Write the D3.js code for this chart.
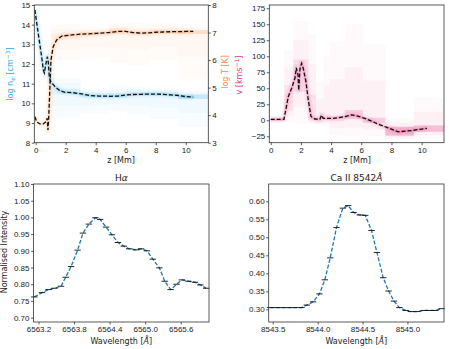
<!DOCTYPE html>
<html>
<head>
<meta charset="utf-8">
<script src="https://cdn.jsdelivr.net/npm/d3@7"></script>
<style>
  body { margin: 0; background: #fff; }
  svg { font-family: "DejaVu Sans", sans-serif; }
  .tick text { font-size: 8px; fill: #222; }
  .tick line { stroke: #333; stroke-width: 0.8; }
  .lbl { font-size: 8px; fill: #222; }
</style>
</head>
<body>
<svg id="fig" width="449" height="349"></svg>
<script>
// ---- atmosphere: dashed mean curves ----
const zNe = [-0.05, 0.17, 0.4, 0.51, 0.58, 0.69, 0.78, 0.84, 0.91, 1.0, 1.29, 1.62, 1.95, 2.5, 3.07, 3.62, 4.2, 5.0, 5.5, 6.0, 6.5, 7.0, 7.5, 8.0, 8.5, 9.0, 9.5, 10.0, 10.5];
const logNe = [14.75, 13.56, 12.37, 11.7, 11.55, 12.04, 12.37, 12.1, 11.35, 11.1, 10.85, 10.64, 10.56, 10.54, 10.48, 10.4, 10.37, 10.36, 10.37, 10.43, 10.45, 10.46, 10.47, 10.47, 10.46, 10.43, 10.4, 10.34, 10.32];

const zT = [-0.05, 0.07, 0.29, 0.51, 0.69, 0.77, 0.82, 0.87, 0.95, 1.02, 1.17, 1.4, 1.73, 2.17, 2.95, 4.07, 4.84, 5.5, 6.0, 6.5, 7.0, 7.5, 8.0, 8.5, 9.0, 9.5, 10.0, 10.5];
const logT = [3.94, 3.76, 3.68, 3.68, 3.76, 3.89, 3.46, 3.89, 5.03, 6.0, 6.49, 6.73, 6.87, 6.9, 6.94, 6.97, 7.0, 7.04, 7.04, 7.0, 6.98, 6.99, 7.01, 7.02, 7.03, 7.03, 7.04, 7.04];

const zV = [0, 0.88, 1.17, 1.39, 1.61, 1.7, 1.76, 1.81, 1.86, 1.94, 2.05, 2.16, 2.34, 2.49, 2.67, 2.93, 3.26, 3.37, 3.48, 4.15, 4.92, 5.36, 5.7, 6.25, 7.13, 8.46, 9.34, 10.35];
const vel = [1.5, 1.5, 37, 50, 66, 82, 74, 72, 47, 80, 89, 81, 60, 32, 6, 2, 1.5, 8, 3, 3, 5.6, 8.3, 7, 3, -6, -18, -16, -12.5];

// ---- density columns: [z0, z1, outerLo, innerLo, innerHi, outerHi, weight] ----
const tCells = [
  [1.0, 3.0, 6.0, 6.75, 6.97, 7.3, 0.3],
  [3.0, 4.9, 6.1, 6.88, 7.02, 7.2, 0.4],
  [4.9, 6.1, 5.9, 6.95, 7.15, 7.35, 0.6],
  [6.1, 7.6, 5.8, 6.9, 7.05, 7.36, 0.4],
  [7.6, 9.5, 6.0, 6.95, 7.1, 7.35, 0.5],
  [9.5, 11.5, 5.3, 6.95, 7.09, 7.25, 1.0]
];
const neCells = [
  [1.0, 3.0, 9.3, 10.45, 10.75, 11.3, 0.3],
  [3.0, 4.9, 9.5, 10.3, 10.5, 10.7, 0.5],
  [4.9, 6.1, 9.6, 10.3, 10.5, 10.9, 0.6],
  [6.1, 7.6, 9.4, 10.38, 10.55, 10.85, 0.5],
  [7.6, 9.5, 9.2, 10.38, 10.55, 10.8, 0.5],
  [9.5, 11.5, 8.8, 10.22, 10.45, 10.65, 1.0]
];
const vCells = [
  [0.0, 0.9, -3, -1, 3, 5, 0.5],
  [0.9, 1.5, -2, 15, 55, 110, 0.4],
  [1.5, 2.5, -5, 45, 95, 155, 0.5],
  [2.5, 3.0, -5, 0, 40, 135, 0.4],
  [3.0, 3.5, -8, -2, 6, 60, 0.3],
  [3.5, 3.9, -10, 0, 8, 100, 0.3],
  [3.9, 4.9, -22, -1, 7, 122, 0.4],
  [4.9, 6.1, -25, 2, 16, 150, 0.8],
  [6.1, 7.6, -25, -4, 4, 120, 0.8],
  [7.6, 9.5, -30, -24, -10, 3, 1.3],
  [9.5, 11.5, -28, -18, -8, 35, 1.2]
];

// ---- spectra ----
const haWave = [6563.13, 6563.26, 6563.37, 6563.47, 6563.58, 6563.66, 6563.75, 6563.86, 6563.95, 6564.05, 6564.16, 6564.24, 6564.34, 6564.44, 6564.54, 6564.64, 6564.73, 6564.85, 6564.93, 6565.03, 6565.13, 6565.24, 6565.33, 6565.43, 6565.53, 6565.62, 6565.73, 6565.84, 6565.93, 6566.03];
const haInt = [0.762, 0.775, 0.784, 0.788, 0.794, 0.821, 0.853, 0.902, 0.953, 0.980, 0.999, 0.994, 0.971, 0.948, 0.925, 0.914, 0.906, 0.903, 0.906, 0.900, 0.875, 0.849, 0.809, 0.784, 0.800, 0.813, 0.809, 0.806, 0.798, 0.788];
const haTicks = [6563.2, 6563.8, 6564.4, 6565.0, 6565.6];

const caWave = [8543.47, 8543.54, 8543.61, 8543.68, 8543.75, 8543.82, 8543.88, 8543.95, 8544.02, 8544.08, 8544.14, 8544.21, 8544.28, 8544.34, 8544.40, 8544.47, 8544.53, 8544.60, 8544.66, 8544.73, 8544.79, 8544.85, 8544.91, 8544.98, 8545.04, 8545.11, 8545.18, 8545.24, 8545.31, 8545.38];
const caInt = [0.305, 0.305, 0.305, 0.305, 0.305, 0.305, 0.312, 0.321, 0.343, 0.382, 0.443, 0.527, 0.581, 0.588, 0.569, 0.562, 0.561, 0.519, 0.458, 0.388, 0.351, 0.323, 0.305, 0.297, 0.294, 0.294, 0.297, 0.297, 0.297, 0.302];
const caTicks = [8543.5, 8544.0, 8544.5, 8545.0];

const cOrange = "#fd8d3c", cBlue = "#29aee6", cPink = "#e7357f";

const svg = d3.select("#fig");

function frame(x, y) {
  const [x0, x1] = x.range(), [y1, y0] = y.range();
  svg.append("rect").attr("x", x0).attr("y", y0).attr("width", x1 - x0).attr("height", y1 - y0)
    .attr("fill", "none").attr("stroke", "#333").attr("stroke-width", 0.8);
}
function clipFor(id, x, y) {
  const [x0, x1] = x.range(), [y1, y0] = y.range();
  svg.append("clipPath").attr("id", id).append("rect")
    .attr("x", x0).attr("y", y0).attr("width", x1 - x0).attr("height", y1 - y0);
  return svg.append("g").attr("clip-path", `url(#${id})`);
}
function axisB(x, y, ticks, fmt) {
  svg.append("g").attr("transform", `translate(0,${y.range()[0]})`)
    .call(d3.axisBottom(x).tickValues(ticks).tickFormat(fmt).tickSize(2.5).tickPadding(1.8))
    .call(g => g.select(".domain").remove());
}
function axisL(x, y, ticks, fmt) {
  svg.append("g").attr("transform", `translate(${x.range()[0]},0)`)
    .call(d3.axisLeft(y).tickValues(ticks).tickFormat(fmt).tickSize(2.5).tickPadding(1.5))
    .call(g => g.select(".domain").remove());
}
// 2D-histogram look: faint outer spread, a middle band, and a denser core
function cells(g, x, y, data, color) {
  data.forEach(c => {
    const [z0, z1, oLo, iLo, iHi, oHi, w] = c;
    g.append("rect").attr("x", x(z0)).attr("width", x(z1) - x(z0))
      .attr("y", y(oHi)).attr("height", y(oLo) - y(oHi))
      .attr("fill", color).attr("opacity", 0.03);
    g.append("rect").attr("x", x(z0)).attr("width", x(z1) - x(z0))
      .attr("y", y((oHi + iHi) / 2)).attr("height", y((oLo + iLo) / 2) - y((oHi + iHi) / 2))
      .attr("fill", color).attr("opacity", 0.04);
    g.append("rect").attr("x", x(z0)).attr("width", x(z1) - x(z0))
      .attr("y", y(iHi)).attr("height", y(iLo) - y(iHi))
      .attr("fill", color).attr("opacity", 0.22 * w);
  });
}
function halo(g, line, xs, ys, color) {
  const pts = xs.map((d, i) => [d, ys[i]]);
  g.append("path").attr("d", line(pts)).attr("fill", "none").attr("stroke", color)
    .attr("stroke-width", 7).attr("opacity", 0.07).attr("stroke-linejoin", "round");
  g.append("path").attr("d", line(pts)).attr("fill", "none").attr("stroke", color)
    .attr("stroke-width", 3).attr("opacity", 0.2).attr("stroke-linejoin", "round");
}
function dashed(g, line, xs, ys) {
  const pts = xs.map((d, i) => [d, ys[i]]);
  g.append("path").attr("d", line(pts)).attr("fill", "none").attr("stroke", "#111")
    .attr("stroke-width", 1.3).attr("stroke-dasharray", "4,2");
}
function ylabel(x, y, color, build) {
  const t = svg.append("text").attr("class", "lbl").attr("text-anchor", "middle")
    .attr("transform", `translate(${x},${y}) rotate(-90)`).style("fill", color);
  build(t);
}

// ---------- top-left: log ne and log T ----------
{
  const x = d3.scaleLinear().domain([-0.09, 11.5]).range([34.3, 208.3]);
  const yN = d3.scaleLinear().domain([8, 15]).range([142.7, 5]);
  const yT = d3.scaleLinear().domain([3, 8]).range([142.7, 5]);
  const g = clipFor("c1", x, yN);
  cells(g, x, yT, tCells, cOrange);
  cells(g, x, yN, neCells, cBlue);
  const lT = d3.line().x(d => x(d[0])).y(d => yT(d[1]));
  const lN = d3.line().x(d => x(d[0])).y(d => yN(d[1]));
  halo(g, lT, zT, logT, cOrange);
  halo(g, lN, zNe, logNe, cBlue);
  dashed(g, lT, zT, logT);
  dashed(g, lN, zNe, logNe);
  frame(x, yN);
  axisB(x, yN, [0, 2, 4, 6, 8, 10], d3.format("d"));
  axisL(x, yN, d3.range(8, 16), d3.format("d"));
  svg.append("g").attr("transform", `translate(${x.range()[1]},0)`)
    .call(d3.axisRight(yT).tickValues(d3.range(3, 9)).tickFormat(d3.format("d")).tickSize(2.5).tickPadding(1.5))
    .call(g => g.select(".domain").remove());
  svg.append("text").attr("class", "lbl").attr("x", 121).attr("y", 163).attr("text-anchor", "middle").text("z [Mm]");
  ylabel(13, 74, cBlue, t => {
    t.append("tspan").text("log n");
    t.append("tspan").attr("font-size", "6px").attr("dy", 1.5).text("e");
    t.append("tspan").attr("dy", -1.5).text(" [cm");
    t.append("tspan").attr("font-size", "6px").attr("dy", -3).text("−3");
    t.append("tspan").attr("dy", 3).text("]");
  });
  ylabel(228, 72, "#f4894a", t => t.text("log T [K]"));
}

// ---------- top-right: velocity ----------
{
  const x = d3.scaleLinear().domain([-0.09, 11.48]).range([269.3, 444]);
  const y = d3.scaleLinear().domain([-35, 180]).range([142.7, 5]);
  const g = clipFor("c2", x, y);
  cells(g, x, y, vCells, cPink);
  const l = d3.line().x(d => x(d[0])).y(d => y(d[1]));
  halo(g, l, zV, vel, cPink);
  dashed(g, l, zV, vel);
  frame(x, y);
  axisB(x, y, [0, 2, 4, 6, 8, 10], d3.format("d"));
  axisL(x, y, d3.range(-25, 176, 25), d3.format("d"));
  svg.append("text").attr("class", "lbl").attr("x", 357).attr("y", 163).attr("text-anchor", "middle").text("z [Mm]");
  ylabel(242, 75, cPink, t => {
    t.append("tspan").text("v [kms");
    t.append("tspan").attr("font-size", "6px").attr("dy", -3).text("−1");
    t.append("tspan").attr("dy", 3).text("]");
  });
}

// ---------- spectra ----------
function spectrum(xDom, xR, yDom, yR, xTicks, yTicks, xFmt, wave, inten, title, showY) {
  const x = d3.scaleLinear().domain(xDom).range(xR);
  const y = d3.scaleLinear().domain(yDom).range(yR);
  const pts = wave.map((d, i) => [d, inten[i]]);
  const l = d3.line().x(d => x(d[0])).y(d => y(d[1]));
  svg.append("path").attr("d", l(pts)).attr("fill", "none").attr("stroke", "#1f77b4")
    .attr("stroke-width", 1.3).attr("stroke-dasharray", "4,1.8");
  svg.append("g").selectAll("line").data(pts).join("line")
    .attr("x1", d => x(d[0]) - 3.2).attr("x2", d => x(d[0]) + 3.2)
    .attr("y1", d => y(d[1])).attr("y2", d => y(d[1]))
    .attr("stroke", "#111").attr("stroke-width", 0.9);
  frame(x, y);
  axisB(x, y, xTicks, xFmt);
  axisL(x, y, yTicks, d3.format(".2f"));
  const cx = (xR[0] + xR[1]) / 2;
  svg.append("text").attr("class", "lbl").attr("x", cx).attr("y", 344).attr("text-anchor", "middle")
    .call(t => {
      t.append("tspan").text("Wavelength [");
      t.append("tspan").attr("font-style", "italic").text("Å");
      t.append("tspan").text("]");
    });
  svg.append("text").attr("x", cx).attr("y", 180.5).attr("text-anchor", "middle")
    .attr("font-size", "9px").attr("fill", "#222").call(title);
  if (showY) ylabel(7, 252, "#222", t => t.text("Normalised Intensity"));
}

spectrum([6563.116, 6566.077], [33.5, 209], [0.687, 1.10], [322, 184],
  haTicks, d3.range(0.70, 1.101, 0.05), d3.format(".1f"), haWave, haInt,
  t => { t.append("tspan").text("H"); t.append("tspan").attr("font-style", "italic").text("α"); }, true);

spectrum([8543.455, 8545.407], [268.7, 444], [0.265, 0.648], [322, 184],
  caTicks, d3.range(0.30, 0.601, 0.05), d3.format(".1f"), caWave, caInt,
  t => { t.append("tspan").text("Ca II 8542"); t.append("tspan").attr("font-style", "italic").text("Å"); }, false);
</script>
</body>
</html>
